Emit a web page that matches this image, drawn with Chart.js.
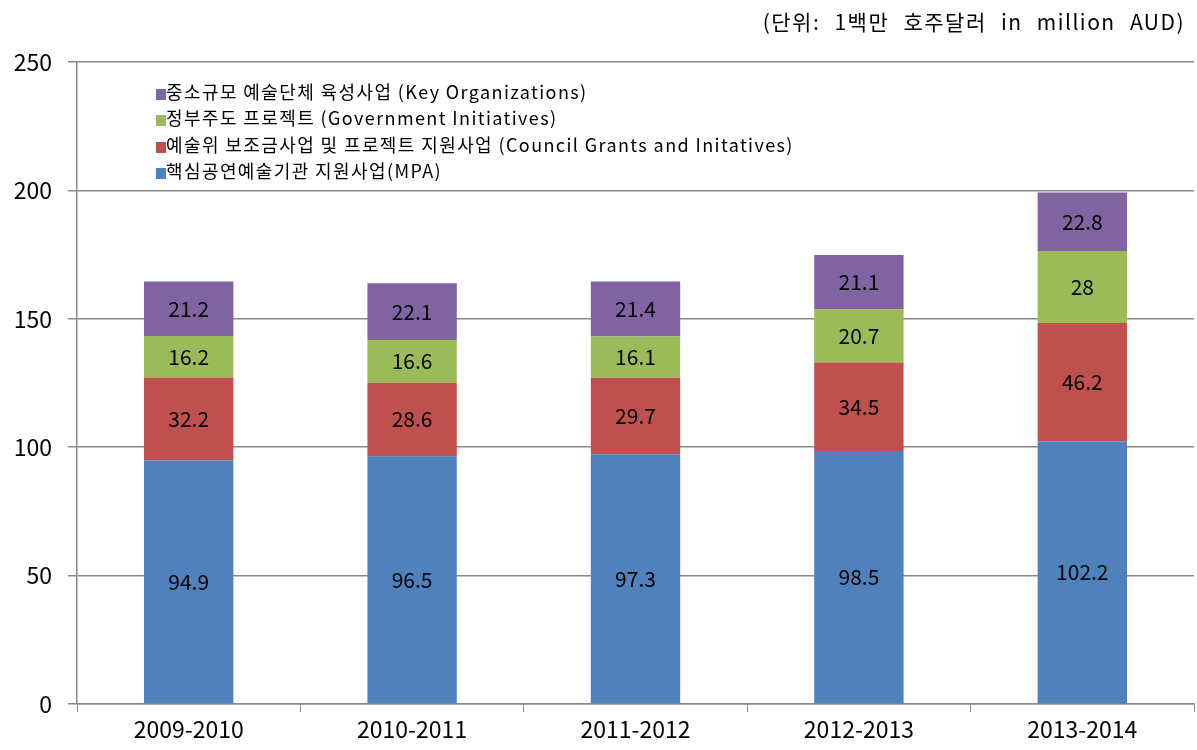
<!DOCTYPE html>
<html>
<head>
<meta charset="utf-8">
<script src="https://cdn.jsdelivr.net/npm/chart.js@4"></script>
<style>
  body { margin: 0; background: #fff; }
  #wrap { position: relative; width: 1197px; height: 750px; }
  #unit {
    position: absolute; right: 12px; top: 6px;
    font: 21px "Noto Sans CJK KR", sans-serif; color: #000;
    letter-spacing: 1.5px; word-spacing: 8px;
  }
  #legend {
    position: absolute; left: 156px; top: 79px;
    font: 18px "Noto Sans CJK KR", sans-serif; color: #000; letter-spacing: 1.4px;
  }
  #legend div { height: 26.3px; line-height: 24px; white-space: nowrap; }
  #legend span.box { display: inline-block; width: 10px; height: 11px; margin-right: 0; vertical-align: -1px; }
</style>
</head>
<body>
<div id="wrap">
  <canvas id="chart" width="1197" height="750"></canvas>
  <div id="unit">(단위: 1백만 호주달러 in million AUD)</div>
  <div id="legend"></div>
</div>
<script>
const years = ['2009-2010', '2010-2011', '2011-2012', '2012-2013', '2013-2014'];
const mpa = [94.9, 96.5, 97.3, 98.5, 102.2];
const councilGrants = [32.2, 28.6, 29.7, 34.5, 46.2];
const govInitiatives = [16.2, 16.6, 16.1, 20.7, 28];
const keyOrgs = [21.2, 22.1, 21.4, 21.1, 22.8];

const seriesNames = [
  '핵심공연예술기관 지원사업(MPA)',
  '예술위 보조금사업 및 프로젝트 지원사업 (Council Grants and Initatives)',
  '정부주도 프로젝트 (Government Initiatives)',
  '중소규모 예술단체 육성사업 (Key Organizations)'
];
const colors = ['#4F81BD', '#C0504D', '#9BBB59', '#8064A2'];

// legend in reverse order, like the original
const legendDiv = document.getElementById('legend');
for (let i = seriesNames.length - 1; i >= 0; i--) {
  const row = document.createElement('div');
  row.innerHTML = '<span class="box" style="background:' + colors[i] + '"></span>' + seriesNames[i];
  legendDiv.appendChild(row);
}

const valueLabels = {
  id: 'valueLabels',
  afterDatasetsDraw(chart) {
    const ctx = chart.ctx;
    ctx.save();
    ctx.font = '21px "Noto Sans CJK KR", sans-serif';
    ctx.fillStyle = '#000';
    ctx.textAlign = 'center';
    ctx.textBaseline = 'middle';
    chart.data.datasets.forEach((ds, i) => {
      chart.getDatasetMeta(i).data.forEach((bar, j) => {
        const mid = (bar.y + bar.base) / 2;
        ctx.fillText(String(ds.data[j]), bar.x, mid);
      });
    });
    ctx.restore();
  }
};

const allData = [mpa, councilGrants, govInitiatives, keyOrgs];
const tickFont = { size: 23, family: '"Noto Sans CJK KR", sans-serif' };

new Chart(document.getElementById('chart'), {
  type: 'bar',
  data: {
    labels: years,
    datasets: allData.map((d, i) => ({
      label: seriesNames[i],
      data: d,
      backgroundColor: colors[i],
      categoryPercentage: 1,
      barPercentage: 0.4
    }))
  },
  options: {
    responsive: false,
    animation: false,
    layout: { padding: { top: 62, right: 3, left: 0, bottom: 0 } },
    plugins: { legend: { display: false }, tooltip: { enabled: false } },
    scales: {
      x: {
        stacked: true,
        afterFit(scale) { scale.height = 46; },
        grid: { offset: true, drawOnChartArea: false, drawTicks: true, tickLength: 8, color: '#888' },
        border: { color: '#888', width: 1.5 },
        ticks: { color: '#000', font: tickFont, padding: 3 }
      },
      y: {
        stacked: true,
        min: 0,
        max: 250,
        afterFit(scale) { scale.width = 77; },
        grid: { color: '#888', lineWidth: 1.5, tickLength: 9 },
        border: { color: '#888', width: 1.5 },
        ticks: { stepSize: 50, color: '#000', font: tickFont, padding: 16 }
      }
    }
  },
  plugins: [valueLabels]
});
</script>
</body>
</html>
